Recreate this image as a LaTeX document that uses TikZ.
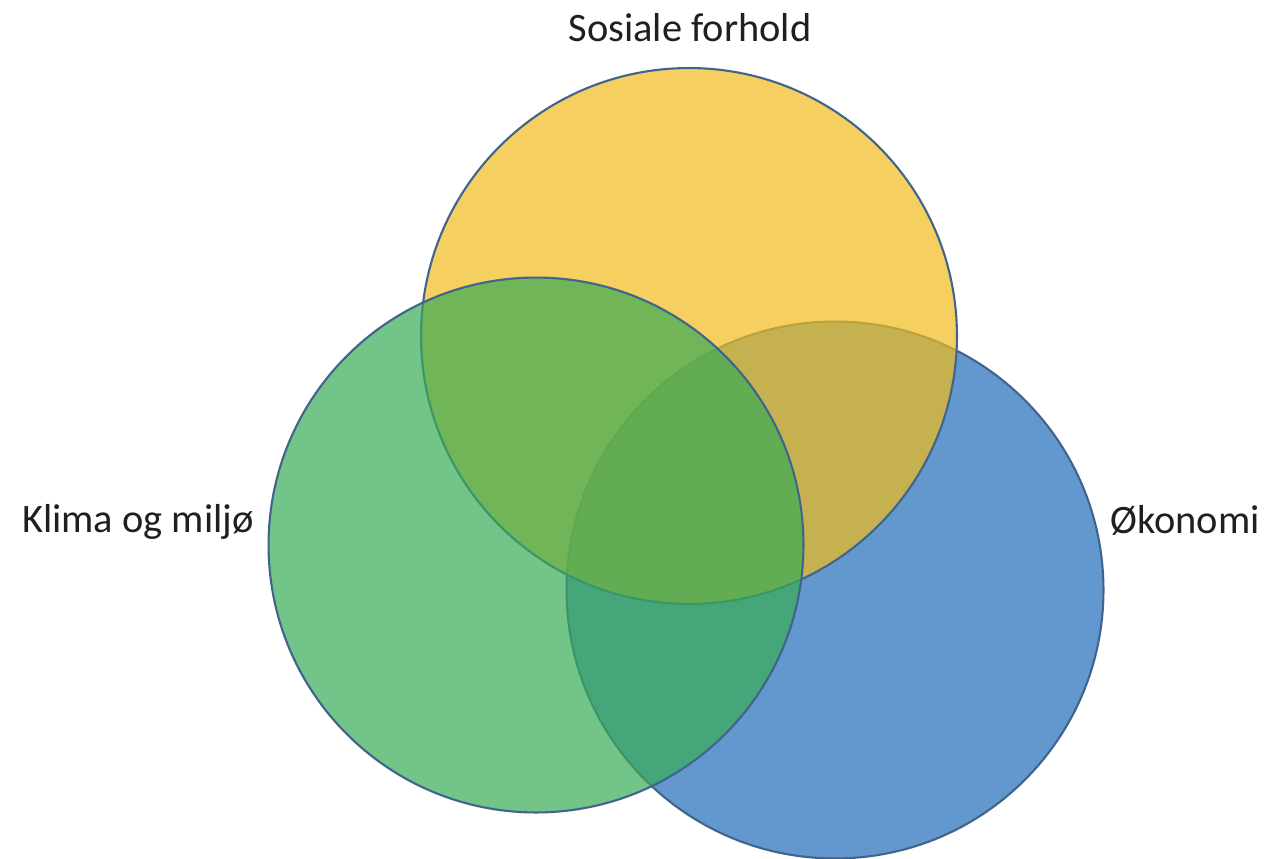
\documentclass[tikz,border=0pt]{standalone}
\usepackage{fontspec}
\setmainfont{Carlito}
\definecolor{vyellow}{RGB}{241,188,28}
\definecolor{vgreen}{RGB}{56,172,86}
\definecolor{vblue}{RGB}{98,152,206}
\definecolor{vborder}{RGB}{65,100,140}
\begin{document}
\begin{tikzpicture}[x=0.02cm,y=-0.02cm,
  venn/.style={draw=vborder,line width=1.2pt},
  lab/.style={font=\fontsize{23}{27}\selectfont,text=black!88,inner sep=0pt}]
\useasboundingbox[fill=white] (0,0) rectangle (1273,858);
\coordinate (cb) at (835,590);
\coordinate (cy) at (689,336);
\coordinate (cg) at (536,545);
\fill[vblue] (cb) circle[radius=5.37cm];
\draw[venn] (cb) circle[radius=5.37cm];
\fill[vyellow,fill opacity=0.7] (cy) circle[radius=5.36cm];
\draw[venn] (cy) circle[radius=5.36cm];
\fill[vgreen,fill opacity=0.7] (cg) circle[radius=5.35cm];
\draw[venn] (cg) circle[radius=5.35cm];
\node[lab] (soc) at (690,28) {Sosiale forhold};
\node[lab] (kli) at (138,522) {Klima og miljø};
\node[lab] (oko) at (1185,520) {Økonomi};
\end{tikzpicture}
\end{document}
